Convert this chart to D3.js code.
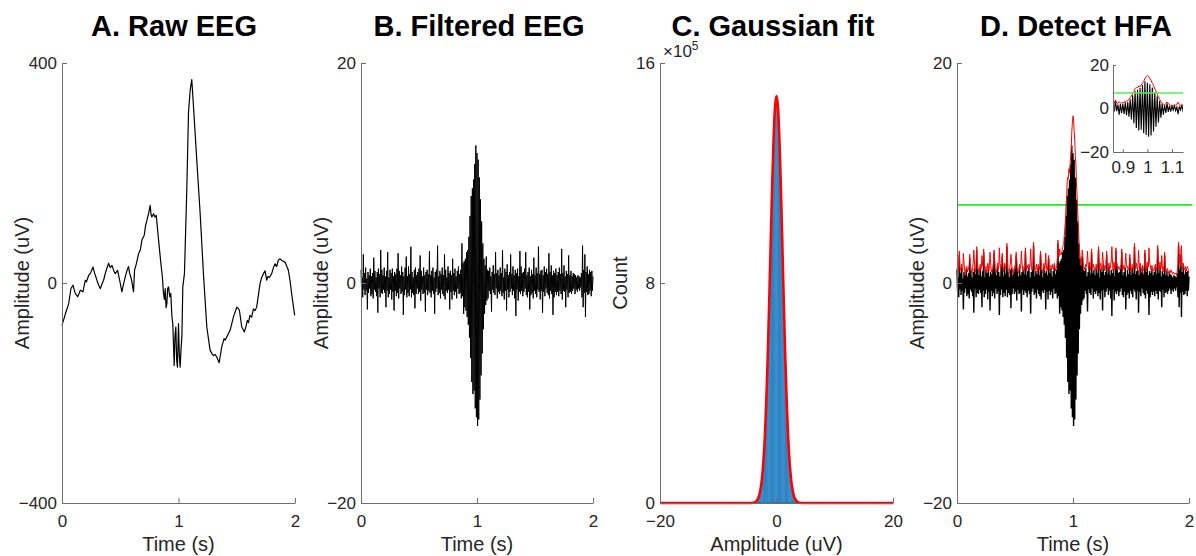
<!DOCTYPE html>
<html>
<head>
<meta charset="utf-8">
<script src="https://cdn.jsdelivr.net/npm/d3@7/dist/d3.min.js"></script>
<style>
  body { margin: 0; background: #fff; }
  svg { display: block; font-family: "Liberation Sans", Arial, sans-serif; }
  .tick text { fill: #262626; font-size: 17px; }
  .domain, .tick line { stroke: #6e6e6e; }
</style>
</head>
<body>
<svg id="fig" width="1196" height="556"></svg>
<script>
// ── A. Raw EEG (time in s, amplitude in uV) ──
const rawTime = [0, 0.029, 0.057, 0.077, 0.094, 0.105, 0.114, 0.134, 0.145, 0.157, 0.18, 0.19, 0.2, 0.21, 0.229, 0.245, 0.266, 0.28, 0.3, 0.315, 0.329, 0.343, 0.357, 0.375, 0.4, 0.414, 0.429, 0.445, 0.457, 0.477, 0.495, 0.514, 0.528, 0.543, 0.557, 0.571, 0.58, 0.591, 0.6, 0.614, 0.623, 0.637, 0.657, 0.672, 0.686, 0.706, 0.717, 0.729, 0.745, 0.757, 0.764, 0.771, 0.786, 0.797, 0.809, 0.829, 0.849, 0.862, 0.871, 0.879, 0.886, 0.893, 0.9, 0.907, 0.914, 0.925, 0.934, 0.943, 0.951, 0.963, 0.97, 0.977, 0.984, 0.991, 1.0, 1.007, 1.014, 1.022, 1.029, 1.037, 1.051, 1.071, 1.086, 1.1, 1.114, 1.129, 1.157, 1.186, 1.214, 1.243, 1.271, 1.286, 1.3, 1.315, 1.329, 1.349, 1.371, 1.391, 1.4, 1.414, 1.429, 1.443, 1.471, 1.5, 1.512, 1.523, 1.543, 1.566, 1.58, 1.591, 1.6, 1.614, 1.628, 1.643, 1.657, 1.671, 1.7, 1.714, 1.729, 1.743, 1.757, 1.768, 1.78, 1.8, 1.815, 1.829, 1.843, 1.857, 1.872, 1.886, 1.914, 1.943, 1.957, 1.971, 1.997];
const rawAmp = [-77, -56, -38, -10, -4, -12, -19, -25, -20, -13, -16, -5, 5, 2, 14, 18, 29, 18, 5, -4, -10, -2, 5, 20, 36, 28, 32, 22, 17, 23, 5, -16, -2, 11, 22, 30, 18, 11, 2, -16, 24, 34, 53, 60, 78, 87, 104, 114, 128, 141, 125, 120, 126, 120, 123, 78, 35, 10, -19, -30, -10, -45, -38, -10, -7, -25, -19, -60, -74, -150, -95, -80, -140, -153, -74, -130, -153, -120, -98, -7, 17, 168, 311, 350, 370, 320, 223, 126, 17, -80, -122, -128, -132, -130, -135, -145, -116, -101, -104, -98, -92, -86, -62, -44, -46, -50, -80, -89, -78, -68, -72, -59, -62, -47, -50, -44, -1, 10, 17, 22, 5, 12, 10, 17, 28, 35, 30, 42, 44, 41, 38, 23, 5, -19, -59];

// ── B/D. Filtered EEG, 200 samples per second, 0 to 2 s (uV) ──
const fs = 200;
const filtered = [
  1.2,-0.8,0.5,-1.3,2.6,-0.6,0.9,-1.1,1.4,-0.7,0.4,-2.4,1.0,-0.9,0.7,-0.5,1.3,-1.2,0.6,-1.0,
  0.9,-1.4,2.3,-0.6,1.1,-0.8,0.5,-1.2,1.0,-2.7,1.3,-0.5,0.8,-1.3,3.0,-0.9,1.2,-1.0,0.7,-0.6,
  1.4,-0.9,0.6,-2.2,1.1,-0.7,2.8,-1.3,0.5,-1.0,1.2,-0.6,0.9,-1.5,1.3,-0.8,0.6,-2.5,1.0,-0.7,
  0.8,-1.2,1.3,-0.9,2.7,-1.4,1.1,-0.5,0.7,-1.0,1.5,-0.8,1.0,-2.9,0.6,-1.1,1.4,-0.6,2.4,-1.3,
  0.6,-0.9,1.5,-1.2,0.8,-0.6,3.3,-1.3,1.0,-0.9,0.5,-1.1,1.2,-2.3,1.4,-1.0,0.7,-0.5,1.0,-1.0,
  1.3,-0.8,2.5,-1.6,1.1,-0.6,0.6,-1.0,1.4,-0.9,0.7,-2.6,1.0,-0.6,1.2,-1.1,0.8,-0.7,2.9,-0.9,
  0.7,-1.3,1.1,-0.7,1.4,-1.0,0.5,-2.8,1.0,-0.8,1.2,-0.5,3.4,-1.1,0.6,-0.9,1.1,-1.4,0.8,-0.6,
  1.4,-1.0,0.7,-1.2,2.6,-1.5,1.2,-0.7,0.5,-0.9,1.5,-0.6,0.9,-2.4,1.1,-0.8,0.7,-1.5,2.2,-0.7,
  0.9,-1.1,1.3,-0.8,0.6,-1.4,1.1,-0.5,1.5,-1.0,0.8,-0.9,1.2,-1.4,3.6,-1.2,1.8,-2.8,2.0,-2.2,
  2.2,-2.5,2.8,-3.1,3.0,-3.8,4.2,-5.0,6.1,-6.8,7.9,-9.0,8.6,-10.1,9.4,-9.8,10.8,-11.4,12.5,-12.2,
  11.8,-13.0,11.2,-12.4,9.6,-10.6,7.6,-8.4,5.6,-6.4,3.6,-4.2,2.2,-2.8,1.6,-2.0,2.4,-1.6,1.2,-1.4,
  1.1,-0.7,1.4,-1.0,0.6,-2.6,1.0,-0.6,1.6,-0.9,0.8,-1.1,2.8,-0.5,0.9,-1.4,1.2,-0.8,0.7,-1.0,
  1.4,-0.7,0.9,-1.2,3.0,-0.9,0.5,-1.5,1.3,-0.7,1.0,-2.5,1.7,-0.6,0.7,-1.3,1.0,-0.8,2.6,-0.5,
  0.8,-1.1,1.5,-0.7,0.7,-1.4,1.2,-3.0,0.9,-0.6,1.3,-1.6,0.6,-0.8,2.9,-1.0,1.5,-0.7,0.9,-1.2,
  1.0,-0.8,1.3,-0.5,2.8,-1.1,0.7,-1.3,1.0,-0.8,1.4,-2.4,0.6,-1.1,1.2,-0.9,0.8,-1.4,2.3,-0.7,
  0.7,-1.0,1.4,-1.3,0.9,-0.6,3.3,-0.8,0.8,-1.5,1.1,-0.7,1.2,-2.7,0.7,-0.8,1.5,-1.2,1.0,-0.5,
  1.3,-0.9,0.8,-1.1,2.7,-1.4,1.0,-0.7,1.6,-1.0,0.7,-2.9,1.1,-1.3,0.9,-0.8,1.3,-1.1,0.7,-0.8,
  1.0,-1.2,1.4,-0.7,0.8,-1.0,3.1,-1.5,0.9,-0.7,1.6,-0.8,0.6,-2.2,1.1,-0.6,0.8,-1.3,2.5,-0.9,
  0.7,-0.8,1.1,-1.0,0.6,-0.7,0.9,-0.5,0.8,-1.0,0.7,-0.6,0.5,-0.8,0.7,-0.5,0.6,-0.7,0.5,-0.4,
  0.9,-1.3,3.4,-2.2,1.2,-0.9,2.6,-3.1,1.0,-0.8,1.5,-1.1,0.8,-1.0,1.2,-0.7,1.0,-1.2,1.1,-0.7,
  0.6
];
// amplitude envelope (red), same sampling
const envelope = [
  1.4,1.1,0.9,1.6,2.9,1.4,1.2,1.4,1.7,1.0,1.3,2.7,1.9,1.2,0.9,0.8,1.5,1.5,1.0,1.3,
  1.2,1.7,2.6,1.6,1.4,1.0,0.9,1.4,1.8,3.0,2.0,1.0,1.1,1.7,3.3,2.0,1.5,1.3,1.0,0.9,
  1.7,1.2,1.4,2.5,1.8,1.5,3.1,2.0,1.1,1.3,1.5,1.0,1.2,1.8,1.6,1.1,1.6,2.8,1.8,1.0,
  1.1,1.5,1.6,1.8,3.0,2.1,1.4,0.9,1.0,1.3,1.8,1.2,1.6,3.2,1.8,1.4,1.7,1.5,2.7,1.8,
  1.0,1.2,1.8,1.5,1.3,1.9,3.6,2.2,1.3,1.2,0.9,1.4,1.8,2.6,1.9,1.3,1.0,0.8,1.3,1.3,
  1.6,1.6,2.8,2.1,1.4,1.0,0.9,1.3,1.7,1.3,1.6,2.9,1.9,1.1,1.5,1.4,1.1,1.5,3.2,1.8,
  1.1,1.6,1.4,1.3,1.7,1.4,1.7,3.1,1.9,1.2,1.5,1.6,3.7,2.2,1.1,1.2,1.4,1.7,1.2,0.9,
  1.7,1.3,1.2,1.6,2.9,2.0,1.5,1.0,0.9,1.2,1.8,1.2,1.5,2.7,1.7,1.1,1.2,1.8,2.5,1.4,
  1.2,1.4,1.6,1.2,1.3,1.7,1.4,1.2,1.8,1.4,1.1,1.3,1.6,2.2,3.9,2.6,2.4,3.1,2.6,2.6,
  2.6,2.9,3.2,3.4,3.5,4.3,5.0,5.8,7.0,7.8,9.2,9.6,9.5,10.4,10.0,10.8,11.6,12.4,13.8,14.6,
  15.2,14.8,13.8,13.0,11.6,10.8,9.0,8.0,6.6,5.4,4.2,3.2,2.5,2.0,1.6,2.2,3.0,2.4,1.6,1.2,
  1.4,1.2,1.7,1.5,1.9,2.9,1.8,1.2,1.9,1.4,1.2,1.7,3.1,1.8,1.3,1.7,1.5,1.2,1.1,1.3,
  1.7,1.2,1.4,1.8,3.3,2.0,1.2,1.8,1.6,1.2,1.7,2.8,2.1,1.2,1.1,1.6,1.3,1.6,2.9,1.6,
  1.1,1.5,1.8,1.2,1.3,1.7,2.0,3.3,2.0,1.1,1.6,1.9,1.2,1.5,3.2,2.0,1.8,1.2,1.3,1.5,
  1.3,1.2,1.6,1.6,3.1,2.0,1.2,1.6,1.3,1.2,1.8,2.7,1.7,1.4,1.5,1.2,1.2,1.7,2.6,1.5,
  1.0,1.3,1.7,1.6,1.3,1.9,3.6,2.1,1.3,1.8,1.5,1.2,1.6,3.0,1.8,1.1,1.8,1.5,1.3,0.9,
  1.6,1.2,1.2,1.5,3.0,2.0,1.4,1.1,1.9,1.4,1.5,3.2,2.0,1.6,1.3,1.1,1.6,1.4,1.1,1.1,
  1.3,1.5,1.7,1.1,1.2,1.8,3.4,2.2,1.3,1.2,1.9,1.3,1.3,2.5,1.6,1.0,1.2,1.6,2.8,1.7,
  1.0,1.0,1.3,1.3,1.0,0.9,1.1,0.9,1.0,1.2,1.0,0.9,0.8,1.0,0.9,0.8,0.8,0.9,0.8,0.7,
  1.2,1.6,3.7,2.8,1.8,1.5,2.9,3.4,2.0,1.3,1.8,1.5,1.2,1.3,1.5,1.1,1.3,1.5,1.4,1.0,
  0.9
];
const threshold = 7.1; // uV, green line

// ── C. Histogram of amplitudes (counts in units of 10^5) and Gaussian fit ──
const binCenters = [-3.5, -3.3, -3.1, -2.9, -2.7, -2.5, -2.3, -2.1, -1.9, -1.7, -1.5, -1.3, -1.1, -0.9, -0.7, -0.5, -0.3, -0.1,
                    0.1, 0.3, 0.5, 0.7, 0.9, 1.1, 1.3, 1.5, 1.7, 1.9, 2.1, 2.3, 2.5, 2.7, 2.9, 3.1, 3.3, 3.5];
const binCounts = [0.05, 0.1, 0.18, 0.31, 0.52, 0.84, 1.3, 1.95, 2.8, 3.9, 5.2, 6.75, 8.4, 10.1, 11.7, 13.05, 14.05, 14.6,
                   14.55, 14.1, 13.1, 11.75, 10.15, 8.45, 6.8, 5.25, 3.9, 2.85, 1.95, 1.3, 0.84, 0.52, 0.31, 0.18, 0.1, 0.05];
const binWidth = 0.2;
const fitX = [-20, -6, -5, -4, -3.5, -3, -2.75, -2.5, -2.25, -2, -1.75, -1.5, -1.25, -1, -0.75, -0.5, -0.25, 0,
              0.25, 0.5, 0.75, 1, 1.25, 1.5, 1.75, 2, 2.25, 2.5, 2.75, 3, 3.5, 4, 5, 6, 20];
const fitY = [0, 0, 0, 0.01, 0.06, 0.25, 0.48, 0.87, 1.49, 2.41, 3.69, 5.33, 7.29, 9.4, 11.47, 13.22, 14.39, 14.8,
              14.39, 13.22, 11.47, 9.4, 7.29, 5.33, 3.69, 2.41, 1.49, 0.87, 0.48, 0.25, 0.06, 0.01, 0, 0, 0];

// ── Layout (pixels) ──
const TOP = 63, BOTTOM = 503;
const panels = {
  A: { x0: 62, x1: 295, title: "A. Raw EEG", tx: 174 },
  B: { x0: 361, x1: 593, title: "B. Filtered EEG", tx: 479 },
  C: { x0: 660, x1: 893, title: "C. Gaussian fit", tx: 773 },
  D: { x0: 957, x1: 1189, title: "D. Detect HFA", tx: 1076 }
};
const INSET = { x0: 1113, x1: 1183, y0: 65, y1: 152 };

const svg = d3.select("#fig");
const sampleTime = (d, i) => i / fs;

function makeAxes(p, xDomain, yDomain, xTicks, yTicks, xLabel, yLabel) {
  const x = d3.scaleLinear().domain(xDomain).range([p.x0, p.x1]);
  const y = d3.scaleLinear().domain(yDomain).range([BOTTOM, TOP]);
  const g = svg.append("g");

  svg.append("text")
    .attr("x", p.tx).attr("y", 36)
    .attr("text-anchor", "middle")
    .attr("font-size", "29px").attr("font-weight", "bold")
    .attr("fill", "#000")
    .text(p.title);

  const axG = svg.append("g").attr("class", "axes");
  axG.append("g")
    .attr("class", "xaxis")
    .attr("transform", `translate(0,${BOTTOM})`)
    .call(d3.axisBottom(x).tickValues(xTicks).tickSize(-5).tickSizeOuter(0).tickPadding(8)
      .tickFormat(d3.format("")))
    .selectAll(".tick text").attr("dy", "0.95em");
  axG.append("g")
    .attr("transform", `translate(${p.x0},0)`)
    .call(d3.axisLeft(y).tickValues(yTicks).tickSize(-5).tickSizeOuter(0).tickPadding(5)
      .tickFormat(d3.format("")));

  svg.append("text")
    .attr("x", (p.x0 + p.x1) / 2).attr("y", 551)
    .attr("text-anchor", "middle").attr("font-size", "20px").attr("fill", "#262626")
    .text(xLabel);
  svg.append("text")
    .attr("transform", `translate(${p.x0 - 33},${(TOP + BOTTOM) / 2}) rotate(-90)`)
    .attr("text-anchor", "middle").attr("font-size", "20px").attr("fill", "#262626")
    .text(yLabel);

  return { x, y, g, axG };
}

// ── Panel A ──
(function () {
  const { x, y, g } = makeAxes(panels.A, [0, 2], [-400, 400], [0, 1, 2], [-400, 0, 400], "Time (s)", "Amplitude (uV)");
  g.append("path")
    .datum(rawTime.map((t, i) => [t, rawAmp[i]]))
    .attr("fill", "none").attr("stroke", "#000").attr("stroke-width", 1.2)
    .attr("stroke-linejoin", "round")
    .attr("d", d3.line().x(d => x(d[0])).y(d => y(d[1])));
})();

// ── Panel B ──
(function () {
  const { x, y, g } = makeAxes(panels.B, [0, 2], [-20, 20], [0, 1, 2], [-20, 0, 20], "Time (s)", "Amplitude (uV)");
  g.append("path")
    .datum(filtered)
    .attr("fill", "none").attr("stroke", "#000").attr("stroke-width", 1)
    .attr("d", d3.line().x((d, i) => x(sampleTime(d, i))).y(d => y(d)));
})();

// ── Panel C ──
(function () {
  const { x, y, g } = makeAxes(panels.C, [-20, 20], [0, 16], [-20, 0, 20], [0, 8, 16], "Amplitude (uV)", "Count");
  g.selectAll("rect.bin")
    .data(binCenters)
    .join("rect")
    .attr("class", "bin")
    .attr("x", d => x(d - binWidth / 2))
    .attr("width", x(binWidth) - x(0))
    .attr("y", (d, i) => y(binCounts[i]))
    .attr("height", (d, i) => y(0) - y(binCounts[i]))
    .attr("fill", "#2e8fd4")
    .attr("stroke", "#1d6aa6").attr("stroke-width", 0.3);
  g.append("path")
    .datum(fitX.map((v, i) => [v, fitY[i]]))
    .attr("fill", "none").attr("stroke", "#ff0000").attr("stroke-width", 2.6)
    .attr("stroke-linejoin", "round")
    .attr("d", d3.line().curve(d3.curveMonotoneX).x(d => x(d[0])).y(d => y(d[1])));
  // exponent label above the y axis
  const ex = svg.append("text")
    .attr("x", panels.C.x0 + 3).attr("y", 57)
    .attr("font-size", "17px").attr("fill", "#262626");
  ex.append("tspan").text("\u00d710");
  ex.append("tspan").attr("dy", -7).attr("font-size", "12px").text("5");
})();

// ── Panel D ──
(function () {
  const { x, y, g, axG } = makeAxes(panels.D, [0, 2], [-20, 20], [0, 1, 2], [-20, 0, 20], "Time (s)", "Amplitude (uV)");
  g.append("line")
    .attr("x1", x(0)).attr("x2", x(2.03))
    .attr("y1", y(threshold)).attr("y2", y(threshold))
    .attr("stroke", "#22ee22").attr("stroke-width", 1.6);
  g.append("path")
    .datum(filtered)
    .attr("fill", "none").attr("stroke", "#000").attr("stroke-width", 1.4)
    .attr("d", d3.line().x((d, i) => x(sampleTime(d, i))).y(d => y(d)));
  g.append("path")
    .datum(envelope)
    .attr("fill", "none").attr("stroke", "#ff0000").attr("stroke-width", 1)
    .attr("d", d3.line().x((d, i) => x(sampleTime(d, i))).y(d => y(d)));
  svg.node().appendChild(axG.node());

  // inset: zoom on the HFA event
  const ix = d3.scaleLinear().domain([0.86, 1.145]).range([INSET.x0, INSET.x1]);
  const iy = d3.scaleLinear().domain([-20, 20]).range([INSET.y1, INSET.y0]);
  const ig = svg.append("g");
  const clipId = "insetClip";
  svg.append("defs").append("clipPath").attr("id", clipId)
    .append("rect").attr("x", INSET.x0).attr("y", INSET.y0)
    .attr("width", INSET.x1 - INSET.x0).attr("height", INSET.y1 - INSET.y0);
  ig.append("rect").attr("x", INSET.x0).attr("y", INSET.y0)
    .attr("width", INSET.x1 - INSET.x0).attr("height", INSET.y1 - INSET.y0).attr("fill", "#fff");
  const dataG = ig.append("g").attr("clip-path", `url(#${clipId})`);
  dataG.append("path")
    .datum(filtered)
    .attr("fill", "none").attr("stroke", "#000").attr("stroke-width", 1.1)
    .attr("d", d3.line().x((d, i) => ix(sampleTime(d, i))).y(d => iy(d)));
  dataG.append("path")
    .datum(envelope)
    .attr("fill", "none").attr("stroke", "#ff0000").attr("stroke-width", 1)
    .attr("d", d3.line().x((d, i) => ix(sampleTime(d, i))).y(d => iy(d)));
  dataG.append("line")
    .attr("x1", INSET.x0).attr("x2", INSET.x1)
    .attr("y1", iy(threshold)).attr("y2", iy(threshold))
    .attr("stroke", "#55ee55").attr("stroke-width", 1.6);
  ig.append("g").attr("class", "axes")
    .attr("transform", `translate(0,${INSET.y1})`)
    .call(d3.axisBottom(ix).tickValues([0.9, 1, 1.1]).tickSize(-3).tickSizeOuter(0).tickPadding(5)
      .tickFormat(d3.format("")))
    .selectAll(".tick text").attr("dy", "0.95em");
  ig.append("g").attr("class", "axes")
    .attr("transform", `translate(${INSET.x0},0)`)
    .call(d3.axisLeft(iy).tickValues([-20, 0, 20]).tickSize(-3).tickSizeOuter(0).tickPadding(4)
      .tickFormat(d3.format("")));
})();
</script>
</body>
</html>
